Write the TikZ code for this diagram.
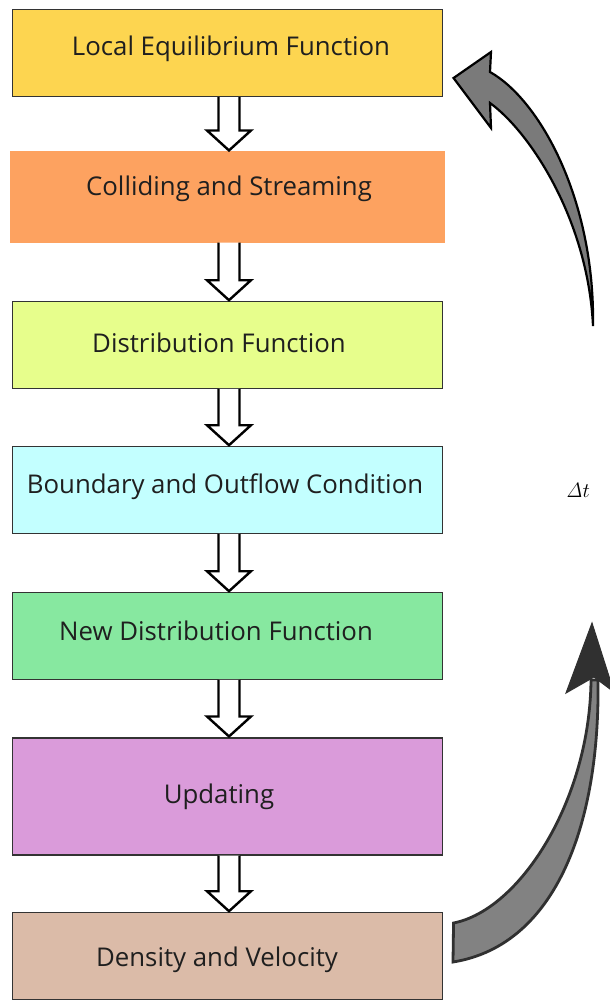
\documentclass[tikz,border=0pt]{standalone}
\usepackage[no-math]{fontspec}
\setmainfont{Open Sans}
\usetikzlibrary{calc}

\definecolor{edge}{HTML}{333333}
\definecolor{cEquil}{HTML}{FDD550}
\definecolor{cCollide}{HTML}{FDA260}
\definecolor{cDist}{HTML}{E7FE8C}
\definecolor{cBound}{HTML}{C3FFFF}
\definecolor{cNewDist}{HTML}{87E8A0}
\definecolor{cUpdate}{HTML}{DA9BDA}
\definecolor{cDensity}{HTML}{DBBBA8}
\definecolor{loopgray}{HTML}{7A7A7A}
\definecolor{risegray}{HTML}{828282}
\definecolor{headdark}{HTML}{303030}

% hollow block arrow from the bottom of one stage to the top of the next
\newcommand\flowdown[2]{%
  \draw[hollow] let \p1=(#1.south), \p2=(#2.north) in
    (\x1+1.5pt-10.5pt,\y1) -- (\x1+1.5pt-10.5pt,\y2+21pt)
    -- (\x1+1.5pt-22pt,\y2+21pt) -- (\x1+1.5pt,\y2+1pt)
    -- (\x1+1.5pt+22pt,\y2+21pt) -- (\x1+1.5pt+10.5pt,\y2+21pt)
    -- (\x1+1.5pt+10.5pt,\y1);}

\begin{document}
\begin{tikzpicture}[x=1pt,y=-1pt,
  stage/.style={draw=edge, line width=1.1pt, minimum width=430pt, inner sep=0pt},
  stagetext/.style={font=\fontsize{25.8}{30}\selectfont, text=black!88, inner sep=0pt, anchor=base},
  hollow/.style={draw=black, line width=2.4pt, fill=white, line join=miter, miter limit=10},
  loopbody/.style={fill=loopgray, draw=black, line width=2.2pt, line join=miter, miter limit=10}]

\useasboundingbox (0,0) rectangle (610,1001);

% stages
\node[stage, fill=cEquil,    minimum height=87pt]  (b1) at (227.5,53)    {};
\node[stage, fill=cCollide, draw=cCollide, minimum width=433pt, minimum height=90pt] (b2) at (227.5,197) {};
\node[stage, fill=cDist,     minimum height=86.5pt] (b3) at (227.5,345)   {};
\node[stage, fill=cBound,    minimum height=86.5pt] (b4) at (227.5,490)   {};
\node[stage, fill=cNewDist,  minimum height=86.5pt] (b5) at (227.5,636)   {};
\node[stage, fill=cUpdate,   minimum height=117pt]  (b6) at (227.5,796.5) {};
\node[stage, fill=cDensity,  minimum height=86.5pt] (b7) at (227.5,956)   {};

% stage titles
\node[stagetext] (t1) at (231,55)  {Local Equilibrium Function};
\node[stagetext] (t2) at (229,195) {Colliding and Streaming};
\node[stagetext] (t3) at (219,352) {Distribution Function};
\node[stagetext] (t4) at (225,493) {Boundary and Outflow Condition};
\node[stagetext] (t5) at (216,640) {New Distribution Function};
\node[stagetext] (t6) at (219,803) {Updating};
\node[stagetext] (t7) at (217,966) {Density and Velocity};

% flow between stages
\flowdown{b1}{b2}
\flowdown{b2}{b3}
\flowdown{b3}{b4}
\flowdown{b4}{b5}
\flowdown{b5}{b6}
\flowdown{b6}{b7}

% time-step loop: rising arrow from the last stage
\coordinate (tailA) at ([xshift=10.5pt,yshift=33pt]b7.east);
\path[loopbody, fill=risegray, draw=headdark, line width=2.8pt]
  (tailA) .. controls (520,910) and (590,800) .. (591,680)
  -- (598,680) .. controls (600,820) and (558,945) .. (453,962) -- cycle;
\path[fill=headdark, draw=headdark, line width=1pt, line join=miter]
  (566,693) -- (592,623) -- (614,692) -- (594,677) -- cycle;

% time-step loop: arrow returning to the first stage
\coordinate (headB) at ([xshift=10.5pt,yshift=-25pt]b1.east);
\path[loopbody]
  (headB) -- (491,52) -- (490,72) .. controls (540,100) and (595,200) .. (593,326)
  .. controls (588,220) and (530,132) .. (490,103) -- (491,128) -- cycle;

% time step label
\node[font=\fontsize{22}{26}\selectfont, inner sep=0pt] (dt) at (578,490) {$\mathit{\Delta}t$};

\end{tikzpicture}
\end{document}
